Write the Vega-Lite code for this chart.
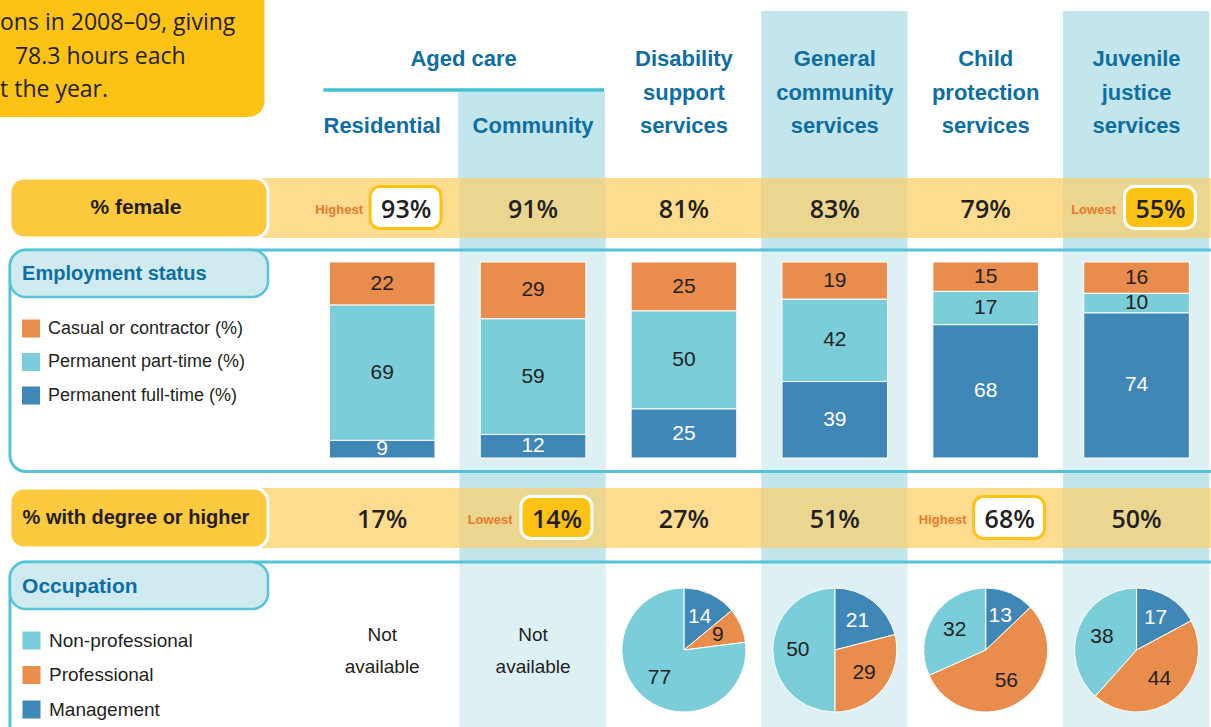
{
  "$schema": "https://vega.github.io/schema/vega-lite/v6.json",
  "padding": 0,
  "spacing": 0,
  "bounds": "flush",
  "background": "white",
  "config": {"view": {"stroke": null}, "axis": {"disable": true}},
  "resolve": {"scale": {"x": "independent", "y": "independent", "color": "independent", "theta": "independent"}},
  "vconcat": [
    {
      "width": 1211, "height": 178,
      "layer": [
        {"data": {"values": [{"col": "General"}, {"col": "Juvenile"}]},
         "mark": {"type": "rect", "fill": "#c2e6ec", "clip": true},
         "encoding": {
           "x": {"field": "col", "type": "nominal", "bandPosition": 0.012, "scale": {"type": "band", "domain": ["L1","L2","Residential","Community","Disability","General","Child","Juvenile"], "range": [5,1212], "paddingInner": 0, "paddingOuter": 0}},
           "x2": {"field": "col", "bandPosition": 0.982},
           "y": {"datum": -0.433, "type": "quantitative", "scale": {"type": "linear", "domain": [1,3], "range": [59,126], "nice": false, "zero": false}},
           "y2": {"datum": 4.7}}},
        {"data": {"values": [{"col": "Community"}]},
         "mark": {"type": "rect", "fill": "#c2e6ec", "clip": true},
         "encoding": {
           "x": {"field": "col", "type": "nominal", "bandPosition": 0.003},
           "x2": {"field": "col", "bandPosition": 0.977},
           "y": {"datum": 1.97, "type": "quantitative"},
           "y2": {"datum": 4.7}}},
        {"data": {"values": [{}]},
         "mark": {"type": "rect", "fill": "#fdc314", "cornerRadius": 16, "clip": true},
         "encoding": {
           "x": {"datum": "L1", "type": "nominal", "bandPosition": -0.2},
           "x2": {"datum": "L2", "bandPosition": 0.72},
           "y": {"datum": -1.6, "type": "quantitative"},
           "y2": {"datum": 2.73}}},
        {"data": {"values": [{"t": "ons in 2008–09, giving", "k": 1}, {"t": "t the year.", "k": 3}]},
         "mark": {"type": "text", "font": "Open Sans", "fontSize": 23, "fill": "#231f20", "align": "left", "baseline": "middle", "dy": -36, "clip": true},
         "encoding": {
           "x": {"datum": "L1", "type": "nominal", "bandPosition": -0.033},
           "y": {"field": "k", "type": "quantitative"},
           "text": {"field": "t"}}},
        {"data": {"values": [{"t": "78.3 hours each", "k": 2}]},
         "mark": {"type": "text", "font": "Open Sans", "fontSize": 23, "fill": "#231f20", "align": "left", "baseline": "middle", "dy": -36, "clip": true},
         "encoding": {
           "x": {"datum": "L1", "type": "nominal", "bandPosition": 0.066},
           "y": {"field": "k", "type": "quantitative"},
           "text": {"field": "t"}}},
        {"data": {"values": [{"t": "Aged care"}]},
         "mark": {"type": "text", "font": "Liberation Sans", "fontWeight": "bold", "fontSize": 22, "fill": "#0e6ea4", "align": "center", "baseline": "middle"},
         "encoding": {
           "x": {"datum": "Community", "type": "nominal", "bandPosition": 0.04},
           "y": {"datum": 1, "type": "quantitative"},
           "text": {"field": "t"}}},
        {"data": {"values": [{}]},
         "mark": {"type": "rule", "stroke": "#43c0cf", "strokeWidth": 3.5},
         "encoding": {
           "x": {"datum": "Residential", "type": "nominal", "bandPosition": 0.11},
           "x2": {"datum": "Community", "bandPosition": 0.97},
           "y": {"datum": 1.925, "type": "quantitative"}}},
        {"data": {"values": [
           {"col": "Residential", "line": 3, "t": "Residential"},
           {"col": "Community", "line": 3, "t": "Community"},
           {"col": "Disability", "line": 1, "t": "Disability"},
           {"col": "Disability", "line": 2, "t": "support"},
           {"col": "Disability", "line": 3, "t": "services"},
           {"col": "General", "line": 1, "t": "General"},
           {"col": "General", "line": 2, "t": "community"},
           {"col": "General", "line": 3, "t": "services"},
           {"col": "Child", "line": 1, "t": "Child"},
           {"col": "Child", "line": 2, "t": "protection"},
           {"col": "Child", "line": 3, "t": "services"},
           {"col": "Juvenile", "line": 1, "t": "Juvenile"},
           {"col": "Juvenile", "line": 2, "t": "justice"},
           {"col": "Juvenile", "line": 3, "t": "services"}]},
         "mark": {"type": "text", "font": "Liberation Sans", "fontWeight": "bold", "fontSize": 22, "fill": "#0e6ea4", "align": "center", "baseline": "middle"},
         "encoding": {
           "x": {"field": "col", "type": "nominal"},
           "y": {"field": "line", "type": "quantitative"},
           "text": {"field": "t"}}}
      ]
    },
    {
      "width": 1211, "height": 60,
      "data": {"values": [
        {"col": "Residential", "pct": 0.93, "note": "Highest"},
        {"col": "Community", "pct": 0.91},
        {"col": "Disability", "pct": 0.81},
        {"col": "General", "pct": 0.83},
        {"col": "Child", "pct": 0.79},
        {"col": "Juvenile", "pct": 0.55, "note": "Lowest"}]},
      "layer": [
        {"data": {"values": [{}]},
         "mark": {"type": "rect", "fill": "#fddc8f"},
         "encoding": {
           "x": {"datum": "L2", "type": "nominal", "bandPosition": 0.703, "scale": {"type": "band", "domain": ["L1","L2","Residential","Community","Disability","General","Child","Juvenile"], "range": [5,1212], "paddingInner": 0, "paddingOuter": 0}},
           "x2": {"datum": "Juvenile", "bandPosition": 1}}},
        {"data": {"values": [{"col": "Community"}, {"col": "General"}, {"col": "Juvenile"}]},
         "mark": {"type": "rect", "fill": "#ebd690"},
         "encoding": {
           "x": {"field": "col", "type": "nominal", "bandPosition": 0.012},
           "x2": {"field": "col", "bandPosition": 0.982}}},
        {"data": {"values": [{}]},
         "mark": {"type": "rect", "fill": "#fdc93e", "stroke": "white", "strokeWidth": 3, "cornerRadius": 14},
         "encoding": {
           "x": {"datum": "L1", "type": "nominal", "bandPosition": 0.033},
           "x2": {"datum": "L2", "bandPosition": 0.7435},
           "y": {"datum": 0.0, "type": "quantitative", "scale": {"type": "linear", "domain": [0,1], "nice": false, "zero": false}},
           "y2": {"datum": 1}}},
        {"data": {"values": [{"t": "% female"}]},
         "mark": {"type": "text", "font": "Liberation Sans", "fontWeight": "bold", "fontSize": 21, "fill": "#231f20", "align": "center", "baseline": "middle", "clip": true},
         "encoding": {
           "x": {"datum": "L1", "type": "nominal", "bandPosition": 0.868},
           "text": {"field": "t"}}},
        {"transform": [{"filter": "datum.note != null"}],
         "mark": {"type": "rect", "cornerRadius": 10, "strokeWidth": 3},
         "encoding": {
           "x": {"field": "col", "type": "nominal", "bandPosition": 0.42},
           "x2": {"field": "col", "bandPosition": 0.89},
           "y": {"datum": 0.16, "type": "quantitative"},
           "y2": {"datum": 0.86},
           "fill": {"condition": {"test": "datum.note === 'Highest'", "value": "white"}, "value": "#fdc314"},
           "stroke": {"condition": {"test": "datum.note === 'Highest'", "value": "#fdc314"}, "value": "white"}}},
        {"transform": [{"filter": "datum.note == null"}],
         "mark": {"type": "text", "font": "Open Sans", "fontWeight": 600, "fontSize": 25, "fill": "#231f20", "align": "center", "baseline": "middle", "dy": 2},
         "encoding": {
           "x": {"field": "col", "type": "nominal"},
           "text": {"field": "pct", "format": ".0%"}}},
        {"transform": [{"filter": "datum.note != null"}],
         "mark": {"type": "text", "font": "Open Sans", "fontWeight": 600, "fontSize": 25, "fill": "#231f20", "align": "center", "baseline": "middle", "dx": 24, "dy": 2},
         "encoding": {
           "x": {"field": "col", "type": "nominal"},
           "text": {"field": "pct", "format": ".0%"}}},
        {"transform": [{"filter": "datum.note != null"}],
         "mark": {"type": "text", "font": "Liberation Sans", "fontWeight": "bold", "fontSize": 13, "fill": "#e97a2b", "align": "center", "baseline": "middle", "dx": -43, "dy": 2},
         "encoding": {
           "x": {"field": "col", "type": "nominal"},
           "text": {"field": "note"}}}
      ]
    },
    {
      "width": 1211, "height": 250,
      "data": {"values": [
        {"col": "Residential", "cat": "Casual or contractor (%)", "value": 22, "ord": 3},
        {"col": "Residential", "cat": "Permanent part-time (%)", "value": 69, "ord": 2},
        {"col": "Residential", "cat": "Permanent full-time (%)", "value": 9, "ord": 1},
        {"col": "Community", "cat": "Casual or contractor (%)", "value": 29, "ord": 3},
        {"col": "Community", "cat": "Permanent part-time (%)", "value": 59, "ord": 2},
        {"col": "Community", "cat": "Permanent full-time (%)", "value": 12, "ord": 1},
        {"col": "Disability", "cat": "Casual or contractor (%)", "value": 25, "ord": 3},
        {"col": "Disability", "cat": "Permanent part-time (%)", "value": 50, "ord": 2},
        {"col": "Disability", "cat": "Permanent full-time (%)", "value": 25, "ord": 1},
        {"col": "General", "cat": "Casual or contractor (%)", "value": 19, "ord": 3},
        {"col": "General", "cat": "Permanent part-time (%)", "value": 42, "ord": 2},
        {"col": "General", "cat": "Permanent full-time (%)", "value": 39, "ord": 1},
        {"col": "Child", "cat": "Casual or contractor (%)", "value": 15, "ord": 3},
        {"col": "Child", "cat": "Permanent part-time (%)", "value": 17, "ord": 2},
        {"col": "Child", "cat": "Permanent full-time (%)", "value": 68, "ord": 1},
        {"col": "Juvenile", "cat": "Casual or contractor (%)", "value": 16, "ord": 3},
        {"col": "Juvenile", "cat": "Permanent part-time (%)", "value": 10, "ord": 2},
        {"col": "Juvenile", "cat": "Permanent full-time (%)", "value": 74, "ord": 1}]},
      "layer": [
        {"data": {"values": [{"col": "Community"}, {"col": "General"}, {"col": "Juvenile"}]},
         "mark": {"type": "rect", "fill": "#c2e6ec"},
         "encoding": {
           "x": {"field": "col", "type": "nominal", "bandPosition": 0.012, "scale": {"type": "band", "domain": ["L1","L2","Residential","Community","Disability","General","Child","Juvenile"], "range": [5,1212], "paddingInner": 0, "paddingOuter": 0}},
           "x2": {"field": "col", "bandPosition": 0.982}}},
        {"data": {"values": [{}]},
         "mark": {"type": "rect", "fill": "white", "fillOpacity": 0.45, "stroke": "#54c4d6", "strokeWidth": 3, "cornerRadius": 16, "clip": true},
         "encoding": {
           "x": {"datum": "L1", "type": "nominal", "bandPosition": 0.033},
           "x2": {"datum": "Juvenile", "bandPosition": 1.3},
           "y": {"datum": 106.12, "type": "quantitative", "scale": {"type": "linear", "domain": [0,100], "range": [220,24], "nice": false, "zero": false}},
           "y2": {"datum": -6.89}}},
        {"data": {"values": [{}]},
         "mark": {"type": "rect", "fill": "#d0ebf0", "stroke": "#54c4d6", "strokeWidth": 2.5, "cornerRadius": 16},
         "encoding": {
           "x": {"datum": "L1", "type": "nominal", "bandPosition": 0.033},
           "x2": {"datum": "L2", "bandPosition": 0.7435},
           "y": {"datum": 106.12, "type": "quantitative"},
           "y2": {"datum": 82.14}}},
        {"data": {"values": [{"t": "Employment status"}]},
         "mark": {"type": "text", "font": "Liberation Sans", "fontWeight": "bold", "fontSize": 20, "fill": "#0e6ea4", "align": "left", "baseline": "middle", "clip": true},
         "encoding": {
           "x": {"datum": "L1", "type": "nominal", "bandPosition": 0.113},
           "y": {"datum": 93.88, "type": "quantitative"},
           "text": {"field": "t"}}},
        {"mark": {"type": "bar", "width": {"band": 0.7}, "stroke": "white", "strokeWidth": 1},
         "encoding": {
           "x": {"field": "col", "type": "nominal"},
           "y": {"field": "value", "type": "quantitative", "stack": "zero"},
           "color": {"field": "cat", "type": "nominal",
             "scale": {"domain": ["Casual or contractor (%)", "Permanent part-time (%)", "Permanent full-time (%)"], "range": ["#e98d4d", "#7acdd9", "#3f87b6"]},
             "legend": {"orient": "none", "legendX": 22, "legendY": 81.5, "title": null, "symbolType": "square", "symbolSize": 324, "symbolStrokeWidth": 0, "symbolOpacity": 1, "labelFont": "Liberation Sans", "labelFontSize": 18, "labelColor": "#231f20", "labelOffset": 8, "rowPadding": 15.5, "labelLimit": 400, "padding": 0}},
           "order": {"field": "ord"}}},
        {"mark": {"type": "text", "font": "Liberation Sans", "fontSize": 21, "align": "center", "baseline": "middle"},
         "encoding": {
           "x": {"field": "col", "type": "nominal"},
           "y": {"field": "value", "type": "quantitative", "stack": "zero", "bandPosition": 0.5},
           "detail": {"field": "cat"},
           "order": {"field": "ord"},
           "text": {"field": "value"},
           "color": {"condition": {"test": "datum.cat === 'Permanent full-time (%)'", "value": "white"}, "value": "#231f20"}}}
      ]
    },
    {
      "width": 1211, "height": 60,
      "data": {"values": [
        {"col": "Residential", "pct": 0.17},
        {"col": "Community", "pct": 0.14, "note": "Lowest"},
        {"col": "Disability", "pct": 0.27},
        {"col": "General", "pct": 0.51},
        {"col": "Child", "pct": 0.68, "note": "Highest"},
        {"col": "Juvenile", "pct": 0.50}]},
      "layer": [
        {"data": {"values": [{}]},
         "mark": {"type": "rect", "fill": "#fddc8f"},
         "encoding": {
           "x": {"datum": "L2", "type": "nominal", "bandPosition": 0.703, "scale": {"type": "band", "domain": ["L1","L2","Residential","Community","Disability","General","Child","Juvenile"], "range": [5,1212], "paddingInner": 0, "paddingOuter": 0}},
           "x2": {"datum": "Juvenile", "bandPosition": 1}}},
        {"data": {"values": [{"col": "Community"}, {"col": "General"}, {"col": "Juvenile"}]},
         "mark": {"type": "rect", "fill": "#ebd690"},
         "encoding": {
           "x": {"field": "col", "type": "nominal", "bandPosition": 0.012},
           "x2": {"field": "col", "bandPosition": 0.982}}},
        {"data": {"values": [{}]},
         "mark": {"type": "rect", "fill": "#fdc93e", "stroke": "white", "strokeWidth": 3, "cornerRadius": 14},
         "encoding": {
           "x": {"datum": "L1", "type": "nominal", "bandPosition": 0.033},
           "x2": {"datum": "L2", "bandPosition": 0.7435},
           "y": {"datum": 0.0, "type": "quantitative", "scale": {"type": "linear", "domain": [0,1], "nice": false, "zero": false}},
           "y2": {"datum": 1}}},
        {"data": {"values": [{"t": "% with degree or higher"}]},
         "mark": {"type": "text", "font": "Liberation Sans", "fontWeight": "bold", "fontSize": 20, "fill": "#231f20", "align": "center", "baseline": "middle", "clip": true},
         "encoding": {
           "x": {"datum": "L1", "type": "nominal", "bandPosition": 0.868},
           "text": {"field": "t"}}},
        {"transform": [{"filter": "datum.note != null"}],
         "mark": {"type": "rect", "cornerRadius": 10, "strokeWidth": 3},
         "encoding": {
           "x": {"field": "col", "type": "nominal", "bandPosition": 0.42},
           "x2": {"field": "col", "bandPosition": 0.89},
           "y": {"datum": 0.16, "type": "quantitative"},
           "y2": {"datum": 0.86},
           "fill": {"condition": {"test": "datum.note === 'Highest'", "value": "white"}, "value": "#fdc314"},
           "stroke": {"condition": {"test": "datum.note === 'Highest'", "value": "#fdc314"}, "value": "white"}}},
        {"transform": [{"filter": "datum.note == null"}],
         "mark": {"type": "text", "font": "Open Sans", "fontWeight": 600, "fontSize": 25, "fill": "#231f20", "align": "center", "baseline": "middle", "dy": 2},
         "encoding": {
           "x": {"field": "col", "type": "nominal"},
           "text": {"field": "pct", "format": ".0%"}}},
        {"transform": [{"filter": "datum.note != null"}],
         "mark": {"type": "text", "font": "Open Sans", "fontWeight": 600, "fontSize": 25, "fill": "#231f20", "align": "center", "baseline": "middle", "dx": 24, "dy": 2},
         "encoding": {
           "x": {"field": "col", "type": "nominal"},
           "text": {"field": "pct", "format": ".0%"}}},
        {"transform": [{"filter": "datum.note != null"}],
         "mark": {"type": "text", "font": "Liberation Sans", "fontWeight": "bold", "fontSize": 13, "fill": "#e97a2b", "align": "center", "baseline": "middle", "dx": -43, "dy": 2},
         "encoding": {
           "x": {"field": "col", "type": "nominal"},
           "text": {"field": "note"}}}
      ]
    },
    {
      "width": 1211, "height": 179,
      "data": {"values": [
        {"col": "Disability", "cat": "Management", "value": 14, "ord": 1},
        {"col": "Disability", "cat": "Professional", "value": 9, "ord": 2},
        {"col": "Disability", "cat": "Non-professional", "value": 77, "ord": 3},
        {"col": "General", "cat": "Management", "value": 21, "ord": 1},
        {"col": "General", "cat": "Professional", "value": 29, "ord": 2},
        {"col": "General", "cat": "Non-professional", "value": 50, "ord": 3},
        {"col": "Child", "cat": "Management", "value": 13, "ord": 1},
        {"col": "Child", "cat": "Professional", "value": 56, "ord": 2},
        {"col": "Child", "cat": "Non-professional", "value": 32, "ord": 3},
        {"col": "Juvenile", "cat": "Management", "value": 17, "ord": 1},
        {"col": "Juvenile", "cat": "Professional", "value": 44, "ord": 2},
        {"col": "Juvenile", "cat": "Non-professional", "value": 38, "ord": 3}]},
      "layer": [
        {"data": {"values": [{"col": "Community"}, {"col": "General"}, {"col": "Juvenile"}]},
         "mark": {"type": "rect", "fill": "#c2e6ec"},
         "encoding": {
           "x": {"field": "col", "type": "nominal", "bandPosition": 0.012, "scale": {"type": "band", "domain": ["L1","L2","Residential","Community","Disability","General","Child","Juvenile"], "range": [5,1212], "paddingInner": 0, "paddingOuter": 0}},
           "x2": {"field": "col", "bandPosition": 0.982}}},
        {"data": {"values": [{}]},
         "mark": {"type": "rect", "fill": "white", "fillOpacity": 0.45, "stroke": "#54c4d6", "strokeWidth": 3, "cornerRadius": 16, "clip": true},
         "encoding": {
           "x": {"datum": "L1", "type": "nominal", "bandPosition": 0.033},
           "x2": {"datum": "Juvenile", "bandPosition": 1.3},
           "y": {"datum": -1.28, "type": "quantitative", "scale": {"type": "linear", "domain": [1,2], "range": [87,119], "nice": false, "zero": false}},
           "y2": {"datum": 4.8}}},
        {"data": {"values": [{}]},
         "mark": {"type": "rect", "fill": "#d0ebf0", "stroke": "#54c4d6", "strokeWidth": 2.5, "cornerRadius": 16},
         "encoding": {
           "x": {"datum": "L1", "type": "nominal", "bandPosition": 0.033},
           "x2": {"datum": "L2", "bandPosition": 0.7435},
           "y": {"datum": -1.28, "type": "quantitative"},
           "y2": {"datum": 0.19}}},
        {"data": {"values": [{"t": "Occupation"}]},
         "mark": {"type": "text", "font": "Liberation Sans", "fontWeight": "bold", "fontSize": 21, "fill": "#0e6ea4", "align": "left", "baseline": "middle", "clip": true},
         "encoding": {
           "x": {"datum": "L1", "type": "nominal", "bandPosition": 0.113},
           "y": {"datum": -0.5, "type": "quantitative"},
           "text": {"field": "t"}}},
        {"data": {"values": [
           {"col": "Residential", "line": 1, "t": "Not"},
           {"col": "Residential", "line": 2, "t": "available"},
           {"col": "Community", "line": 1, "t": "Not"},
           {"col": "Community", "line": 2, "t": "available"}]},
         "mark": {"type": "text", "font": "Liberation Sans", "fontSize": 19, "fill": "#231f20", "align": "center", "baseline": "middle"},
         "encoding": {
           "x": {"field": "col", "type": "nominal"},
           "y": {"field": "line", "type": "quantitative"},
           "text": {"field": "t"}}},
        {"transform": [{"filter": "datum.col === 'Disability'"}],
         "layer": [
           {"mark": {"type": "arc", "radius": 62, "stroke": "white", "strokeWidth": 1},
            "encoding": {
              "x": {"field": "col", "type": "nominal"},
              "y": {"datum": 1.469, "type": "quantitative"},
              "theta": {"field": "value", "type": "quantitative", "stack": "normalize"},
              "color": {"field": "cat", "type": "nominal",
                "scale": {"domain": ["Non-professional", "Professional", "Management"], "range": ["#7acdd9", "#e98d4d", "#3f87b6"]},
                "legend": {"orient": "none", "legendX": 22, "legendY": 83, "title": null, "symbolType": "square", "symbolSize": 324, "symbolStrokeWidth": 0, "symbolOpacity": 1, "labelFont": "Liberation Sans", "labelFontSize": 19, "labelColor": "#231f20", "labelOffset": 8, "rowPadding": 14.5, "labelLimit": 400, "padding": 0}},
              "order": {"field": "ord"}}},
           {"mark": {"type": "text", "radius": 37, "font": "Liberation Sans", "fontSize": 21, "align": "center", "baseline": "middle"},
            "encoding": {
              "x": {"field": "col", "type": "nominal"},
              "y": {"datum": 1.469, "type": "quantitative"},
              "theta": {"field": "value", "type": "quantitative", "stack": "normalize"},
              "detail": {"field": "cat"},
              "order": {"field": "ord"},
              "text": {"field": "value"},
              "color": {"condition": {"test": "datum.cat === 'Management'", "value": "white"}, "value": "#231f20"}}}
         ]},
        {"transform": [{"filter": "datum.col === 'General'"}],
         "layer": [
           {"mark": {"type": "arc", "radius": 62, "stroke": "white", "strokeWidth": 1},
            "encoding": {
              "x": {"field": "col", "type": "nominal"},
              "y": {"datum": 1.469, "type": "quantitative"},
              "theta": {"field": "value", "type": "quantitative", "stack": "normalize"},
              "color": {"field": "cat", "type": "nominal"},
              "order": {"field": "ord"}}},
           {"mark": {"type": "text", "radius": 37, "font": "Liberation Sans", "fontSize": 21, "align": "center", "baseline": "middle"},
            "encoding": {
              "x": {"field": "col", "type": "nominal"},
              "y": {"datum": 1.469, "type": "quantitative"},
              "theta": {"field": "value", "type": "quantitative", "stack": "normalize"},
              "detail": {"field": "cat"},
              "order": {"field": "ord"},
              "text": {"field": "value"},
              "color": {"condition": {"test": "datum.cat === 'Management'", "value": "white"}, "value": "#231f20"}}}
         ]},
        {"transform": [{"filter": "datum.col === 'Child'"}],
         "layer": [
           {"mark": {"type": "arc", "radius": 62, "stroke": "white", "strokeWidth": 1},
            "encoding": {
              "x": {"field": "col", "type": "nominal"},
              "y": {"datum": 1.469, "type": "quantitative"},
              "theta": {"field": "value", "type": "quantitative", "stack": "normalize"},
              "color": {"field": "cat", "type": "nominal"},
              "order": {"field": "ord"}}},
           {"mark": {"type": "text", "radius": 37, "font": "Liberation Sans", "fontSize": 21, "align": "center", "baseline": "middle"},
            "encoding": {
              "x": {"field": "col", "type": "nominal"},
              "y": {"datum": 1.469, "type": "quantitative"},
              "theta": {"field": "value", "type": "quantitative", "stack": "normalize"},
              "detail": {"field": "cat"},
              "order": {"field": "ord"},
              "text": {"field": "value"},
              "color": {"condition": {"test": "datum.cat === 'Management'", "value": "white"}, "value": "#231f20"}}}
         ]},
        {"transform": [{"filter": "datum.col === 'Juvenile'"}],
         "layer": [
           {"mark": {"type": "arc", "radius": 62, "stroke": "white", "strokeWidth": 1},
            "encoding": {
              "x": {"field": "col", "type": "nominal"},
              "y": {"datum": 1.469, "type": "quantitative"},
              "theta": {"field": "value", "type": "quantitative", "stack": "normalize"},
              "color": {"field": "cat", "type": "nominal"},
              "order": {"field": "ord"}}},
           {"mark": {"type": "text", "radius": 37, "font": "Liberation Sans", "fontSize": 21, "align": "center", "baseline": "middle"},
            "encoding": {
              "x": {"field": "col", "type": "nominal"},
              "y": {"datum": 1.469, "type": "quantitative"},
              "theta": {"field": "value", "type": "quantitative", "stack": "normalize"},
              "detail": {"field": "cat"},
              "order": {"field": "ord"},
              "text": {"field": "value"},
              "color": {"condition": {"test": "datum.cat === 'Management'", "value": "white"}, "value": "#231f20"}}}
         ]}
      ]
    }
  ]
}
